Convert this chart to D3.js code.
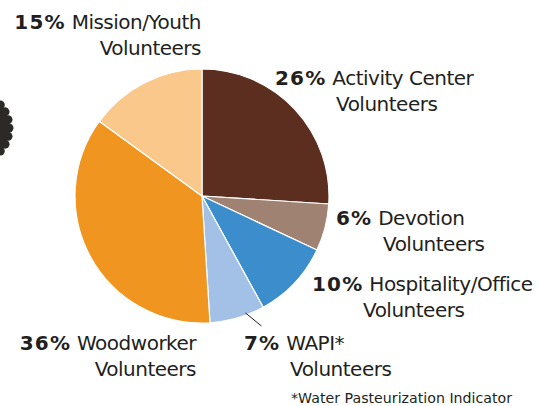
<!DOCTYPE html>
<html>
<head>
<meta charset="utf-8">
<script src="https://cdn.jsdelivr.net/npm/d3@7"></script>
<style>
  body { margin: 0; background: #fff; }
  text { font-family: "DejaVu Sans", Verdana, sans-serif; fill: #231f20; }
</style>
</head>
<body>
<div id="chart"></div>
<script>
// slice data, clockwise from 12 o'clock
var categories = ["Activity Center", "Devotion", "Hospitality/Office", "WAPI*", "Woodworker", "Mission/Youth"];
var values = [26, 6, 10, 7, 36, 15];
var colors = ["#5b2e1f", "#a08272", "#3b8dcc", "#a3c0e6", "#f0951f", "#f9c88a"];
var footnote = "*Water Pasteurization Indicator";

var width = 538, height = 406;
var cx = 202, cy = 196, r = 127;

// label placement: x, y of first baseline, anchor, x of 2nd line
var labelPos = [
  { x: 275, y: 85, anchor: "start", x2: 336 },
  { x: 336, y: 225, anchor: "start", x2: 383 },
  { x: 312, y: 291, anchor: "start", x2: 363 },
  { x: 244, y: 350, anchor: "start", x2: 290 },
  { x: 196, y: 350, anchor: "end", x2: 196 },
  { x: 201, y: 29, anchor: "end", x2: 201 }
];

var svg = d3.select("#chart")
  .append("svg")
  .attr("width", width)
  .attr("height", height);

// cut-off dark badge at left edge
var badge = svg.append("g").attr("fill", "#2b2a27");
badge.append("circle").attr("cx", -26).attr("cy", 128).attr("r", 35);
d3.range(-3, 4).forEach(function(i) {
  var a = i * 0.24;
  badge.append("circle")
    .attr("cx", -26 + 35 * Math.cos(a))
    .attr("cy", 128 + 35 * Math.sin(a))
    .attr("r", 4.5);
});

var pie = d3.pie().sort(null).value(function(d) { return d; });
var arc = d3.arc().innerRadius(0).outerRadius(r);

var g = svg.append("g").attr("transform", "translate(" + cx + "," + cy + ")");

g.selectAll("path")
  .data(pie(values))
  .enter().append("path")
  .attr("d", arc)
  .attr("fill", function(d, i) { return colors[i]; })
  .attr("stroke", "#fff")
  .attr("stroke-width", 1.2);

// leader line for WAPI slice
var wapi = pie(values)[3];
var mid = (wapi.startAngle + wapi.endAngle) / 2;
var ex = cx + r * Math.sin(mid), ey = cy - r * Math.cos(mid);
svg.append("line")
  .attr("x1", ex + 8)
  .attr("y1", ey - 5)
  .attr("x2", ex + 24)
  .attr("y2", ey + 8)
  .attr("stroke", "#231f20")
  .attr("stroke-width", 1);

var labels = svg.selectAll("g.label")
  .data(categories)
  .enter().append("g")
  .attr("class", "label");

labels.each(function(name, i) {
  var p = labelPos[i];
  var t = d3.select(this).append("text")
    .attr("x", p.x)
    .attr("y", p.y)
    .attr("text-anchor", p.anchor)
    .style("font-size", "20px");
  t.append("tspan").style("font-weight", "bold").style("letter-spacing", "1.2px").text(values[i] + "%");
  t.append("tspan").style("letter-spacing", "-0.5px").text(" " + name);
  d3.select(this).append("text")
    .attr("x", p.x2)
    .attr("y", p.y + 26)
    .attr("text-anchor", p.anchor)
    .style("font-size", "20px")
    .style("letter-spacing", "-0.5px")
    .text("Volunteers");
});

svg.append("text")
  .attr("x", 291)
  .attr("y", 403)
  .style("font-size", "14.2px")
  .text(footnote);
</script>
</body>
</html>
